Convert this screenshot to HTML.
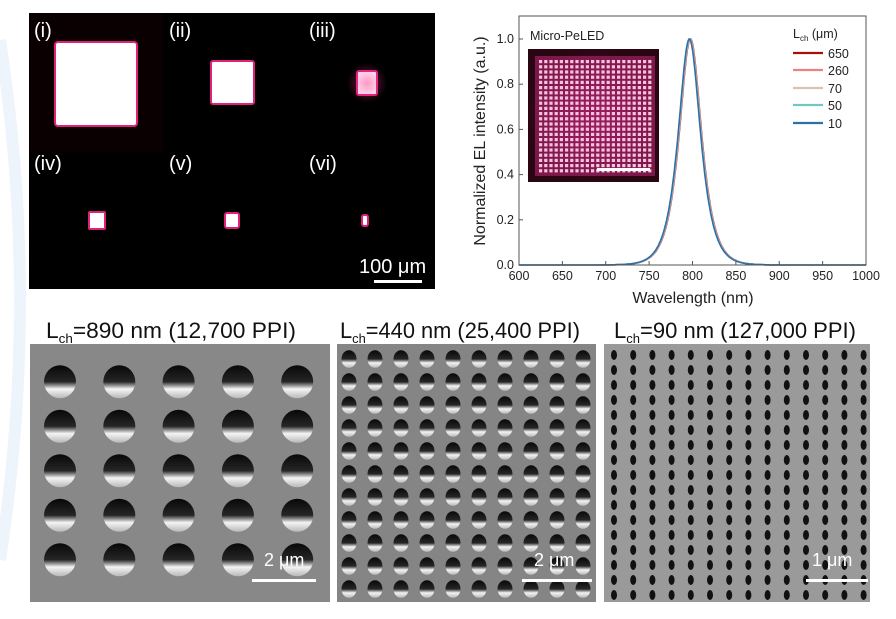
<!DOCTYPE html>
<html><head><meta charset="utf-8"><style>
body{margin:0;background:#fff;width:896px;height:619px;overflow:hidden;font-family:"Liberation Sans",sans-serif}
svg{position:absolute;left:0;top:0}
</style></head><body>
<svg id="s" width="896" height="619" viewBox="0 0 896 619" xmlns="http://www.w3.org/2000/svg" font-family="Liberation Sans, sans-serif">
<defs>
<radialGradient id="glow"><stop offset="0" stop-color="#ff3090" stop-opacity="0.5"/><stop offset="1" stop-color="#ff3090" stop-opacity="0"/></radialGradient>
<linearGradient id="hv" x1="0" y1="0" x2="0" y2="1"><stop offset="0" stop-color="#080808"/><stop offset="0.5" stop-color="#262626"/><stop offset="0.72" stop-color="#f4f4f4"/><stop offset="1" stop-color="#b8b8b8"/></linearGradient>
<radialGradient id="insetbg"><stop offset="0" stop-color="#6a1040"/><stop offset="1" stop-color="#2a0612"/></radialGradient>
</defs>
<path d="M0 40 Q40 300 0 560" fill="none" stroke="#eef4fb" stroke-width="12"/>
<rect x="29" y="13" width="406" height="276" fill="#000"/>
<rect x="29" y="13" width="134" height="139" fill="#0a0002"/>
<g fill="#fff" stroke="#e0207a" stroke-width="2">
<rect x="55" y="42" width="82" height="84" rx="3"/>
<rect x="211" y="61" width="43" height="43" rx="2"/>
<rect x="357" y="71" width="20" height="24" rx="2"/>
<rect x="89" y="212" width="16" height="17" rx="1"/>
<rect x="225" y="213" width="14" height="15" rx="2"/>
<rect x="362" y="215" width="6" height="11" rx="2"/>
</g>
<circle cx="367" cy="83" r="20" fill="url(#glow)"/>
<g fill="#fff" font-size="20">
<text x="34" y="37">(i)</text><text x="169" y="37">(ii)</text><text x="309" y="37">(iii)</text>
<text x="34" y="170">(iv)</text><text x="169" y="170">(v)</text><text x="309" y="170">(vi)</text>
<text x="359" y="273" font-size="20">100 μm</text>
</g>
<rect x="374" y="280" width="48" height="3" fill="#fff"/>
<g id="chart"></g>
<rect x="519" y="16" width="347" height="249" fill="none" stroke="#555" stroke-width="1"/>
<rect x="528" y="49" width="131" height="133" fill="url(#insetbg)"/>
<g id="inset"></g>
<rect x="597" y="168" width="53" height="3" fill="#fff"/>
<text x="530" y="40" font-size="12.5" fill="#222">Micro-PeLED</text>
<g font-size="12.5" fill="#222">
<text x="793" y="38">L<tspan font-size="8" dy="3">ch</tspan><tspan dy="-3"> (μm)</tspan></text>
<text x="828" y="58">650</text><text x="828" y="75">260</text><text x="828" y="93">70</text><text x="828" y="110">50</text><text x="828" y="128">10</text>
</g>
<g stroke-width="2.2">
<line x1="793" y1="53" x2="823" y2="53" stroke="#a81010"/>
<line x1="793" y1="70" x2="823" y2="70" stroke="#f08080"/>
<line x1="793" y1="88" x2="823" y2="88" stroke="#d8c4b4"/>
<line x1="793" y1="105" x2="823" y2="105" stroke="#70c8c0"/>
<line x1="793" y1="123" x2="823" y2="123" stroke="#2f6fa8"/>
</g>
<g id="ticks" font-size="12.5" fill="#222"></g>
<text x="693" y="303" font-size="16" text-anchor="middle" fill="#222">Wavelength (nm)</text>
<text transform="translate(485,141) rotate(-90)" font-size="16" text-anchor="middle" fill="#222">Normalized EL intensity (a.u.)</text>
<g font-size="22" fill="#111">
<text x="46" y="338" textLength="250" lengthAdjust="spacingAndGlyphs">L<tspan font-size="13" dy="5">ch</tspan><tspan dy="-5">=890 nm (12,700 PPI)</tspan></text>
<text x="340" y="338" textLength="240" lengthAdjust="spacingAndGlyphs">L<tspan font-size="13" dy="5">ch</tspan><tspan dy="-5">=440 nm (25,400 PPI)</tspan></text>
<text x="614" y="338" textLength="242" lengthAdjust="spacingAndGlyphs">L<tspan font-size="13" dy="5">ch</tspan><tspan dy="-5">=90 nm (127,000 PPI)</tspan></text>
</g>
<rect x="30" y="344" width="300" height="258" fill="#888"/>
<rect x="337" y="344" width="259" height="258" fill="#858585"/>
<rect x="604" y="344" width="266" height="258" fill="#9a9a9a"/>
<g id="sem"></g>
<g fill="#fff" font-size="18">
<text x="264" y="566">2 μm</text><text x="534" y="566">2 μm</text><text x="812" y="566">1 μm</text>
</g>
<rect x="252" y="579" width="64" height="3" fill="#fff"/>
<rect x="522" y="579" width="70" height="3" fill="#fff"/>
<rect x="806" y="579" width="62" height="3" fill="#fff"/>
</svg>
<script>
var NS="http://www.w3.org/2000/svg";
function el(p,t,a){var e=document.createElementNS(NS,t);for(var k in a)e.setAttribute(k,a[k]);p.appendChild(e);return e;}
var ch=document.getElementById('chart'),tk=document.getElementById('ticks');
function X(l){return 519+(l-600)*347/400;}function Y(v){return 265-226*v;}
for(var i=0;i<=8;i++){var l=600+i*50;el(tk,'line',{x1:X(l),y1:265,x2:X(l),y2:261,stroke:'#555'});var t=el(tk,'text',{x:X(l),y:280,'text-anchor':'middle'});t.textContent=l;}
for(var i=0;i<=5;i++){var v=i*0.2;el(tk,'line',{x1:519,y1:Y(v),x2:523,y2:Y(v),stroke:'#555'});var t=el(tk,'text',{x:514,y:Y(v)+4,'text-anchor':'end'});t.textContent=v.toFixed(1);}
var cols=['#a81010','#f08080','#d8c4b4','#70c8c0','#2f6fa8'];
cols.forEach(function(c,j){var d='';for(var l=600;l<=1000;l+=1){var z=(l-797+(j-2)*0.3)/11.4;var v=2/(Math.exp(z)+Math.exp(-z));d+=(l==600?'M':'L')+X(l).toFixed(1)+' '+Y(v).toFixed(1);}el(ch,'path',{d:d,fill:'none',stroke:c,'stroke-width':1.6});});
var ins=document.getElementById('inset');
el(ins,'rect',{x:535,y:56,width:120,height:120,fill:'#c02a78',opacity:0.55});
for(var r=0;r<22;r++)for(var c=0;c<22;c++)el(ins,'rect',{x:539+c*5.2,y:60+r*5.2,width:3.2,height:3.2,fill:'#fbc0e0'});
var sem=document.getElementById('sem');
function holes(x0,dx,nx,y0,dy,ny,rx,ry){for(var r=0;r<ny;r++)for(var c=0;c<nx;c++){var cx=x0+c*dx,cy=y0+r*dy;el(sem,'ellipse',{cx:cx,cy:cy+ry*0.25,rx:rx,ry:ry*1.1,fill:'url(#hv)'});}}
holes(60,59.3,5,378,44.5,5,16,15);
holes(349,26,10,357,23,11,7.5,8);
for(var r=0;r<17;r++)for(var c=0;c<14;c++)el(sem,'ellipse',{cx:614+c*19.2,cy:355+r*15,rx:3,ry:5,fill:'#111'});
</script>
</body></html>
